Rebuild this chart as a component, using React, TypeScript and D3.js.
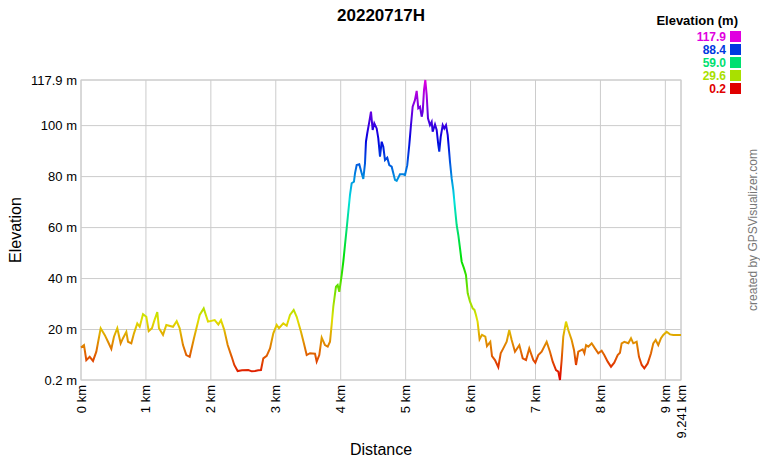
import React from "react";
import * as d3 from "d3";

const title = "20220717H";
const distKm: number[] = [
  0, 0.046, 0.082, 0.134, 0.185, 0.236, 0.303, 0.365, 0.416, 0.467, 0.508, 0.559, 0.611, 0.647, 0.698, 0.724,
  0.775, 0.816, 0.867, 0.904, 0.955, 1.006, 1.043, 1.093, 1.124, 1.175, 1.201, 1.263, 1.314, 1.417, 1.474, 1.52,
  1.571, 1.622, 1.674, 1.74, 1.828, 1.89, 1.956, 2.059, 2.115, 2.156, 2.207, 2.259, 2.321, 2.361, 2.413, 2.48,
  2.577, 2.63, 2.68, 2.73, 2.772, 2.808, 2.86, 2.911, 2.962, 3.014, 3.049, 3.116, 3.168, 3.219, 3.276, 3.322,
  3.388, 3.439, 3.476, 3.527, 3.604, 3.63, 3.67, 3.707, 3.758, 3.8, 3.835, 3.861, 3.886, 3.927, 3.953, 3.978,
  4.015, 4.04, 4.066, 4.092, 4.117, 4.143, 4.169, 4.204, 4.22, 4.246, 4.286, 4.323, 4.348, 4.374, 4.389, 4.409,
  4.44, 4.466, 4.492, 4.517, 4.554, 4.579, 4.605, 4.631, 4.656, 4.682, 4.717, 4.748, 4.785, 4.836, 4.862, 4.913,
  4.964, 4.99, 5.025, 5.056, 5.082, 5.108, 5.143, 5.17, 5.195, 5.221, 5.247, 5.263, 5.283, 5.303, 5.324, 5.344,
  5.375, 5.401, 5.416, 5.452, 5.478, 5.503, 5.518, 5.54, 5.571, 5.595, 5.622, 5.648, 5.668, 5.683, 5.709, 5.734,
  5.76, 5.786, 5.811, 5.837, 5.863, 5.899, 5.929, 5.956, 5.991, 6.033, 6.06, 6.083, 6.108, 6.139, 6.176, 6.227,
  6.253, 6.304, 6.33, 6.376, 6.427, 6.464, 6.504, 6.556, 6.596, 6.633, 6.684, 6.751, 6.803, 6.854, 6.904, 6.966,
  6.997, 7.043, 7.095, 7.172, 7.223, 7.265, 7.316, 7.351, 7.377, 7.403, 7.428, 7.47, 7.505, 7.557, 7.593, 7.624,
  7.659, 7.727, 7.753, 7.779, 7.814, 7.865, 7.916, 7.967, 8.019, 8.059, 8.112, 8.163, 8.213, 8.266, 8.301, 8.327,
  8.368, 8.43, 8.471, 8.506, 8.558, 8.594, 8.636, 8.676, 8.728, 8.779, 8.814, 8.851, 8.891, 8.933, 8.968, 9.02,
  9.071, 9.122, 9.174, 9.241,
];
const elevM: number[] = [
  12.9, 13.9, 8.0, 9.3, 7.7, 11.3, 20.5, 17.9, 15.2, 12.4, 17.2, 20.5, 14.6, 16.6, 19.1, 15.2,
  14.6, 18.5, 22.4, 21.1, 26.0, 25.0, 19.4, 20.5, 23.1, 26.8, 20.5, 17.9, 21.8, 21.1, 23.3, 20.5,
  13.9, 10.0, 9.3, 16.6, 25.7, 28.3, 23.1, 23.7, 22.0, 23.7, 19.8, 13.9, 9.3, 6.1, 3.7, 4.0,
  4.1, 3.6, 3.7, 4.0, 4.1, 8.7, 9.7, 12.6, 18.5, 21.8, 20.5, 22.4, 21.5, 25.7, 27.7, 25.0,
  19.1, 13.9, 10.0, 10.7, 10.5, 7.4, 10.0, 16.8, 13.9, 13.3, 15.2, 22.0, 29.0, 36.8, 37.5, 34.8,
  41.4, 46.6, 53.2, 59.7, 66.2, 72.8, 77.4, 78.0, 81.3, 84.5, 84.8, 81.3, 79.1, 85.2, 93.7, 97.0,
  101.5, 105.5, 98.3, 100.9, 98.9, 95.0, 87.8, 93.7, 91.7, 86.5, 87.4, 84.5, 83.9, 78.7, 78.3, 80.9,
  80.9, 80.6, 84.5, 92.4, 100.2, 107.4, 110.0, 113.6, 106.8, 107.4, 103.5, 105.5, 114.0, 117.9, 112.0, 102.9,
  100.2, 101.5, 97.6, 100.5, 98.3, 92.4, 89.8, 95.6, 100.2, 98.9, 100.2, 96.3, 90.4, 85.8, 79.3, 74.7,
  67.6, 61.0, 57.1, 51.9, 46.6, 44.0, 41.4, 34.2, 30.9, 28.3, 27.7, 25.7, 23.1, 16.2, 17.9, 17.2,
  13.5, 15.2, 9.6, 8.0, 5.2, 10.7, 12.6, 15.2, 19.8, 15.9, 11.3, 13.9, 8.7, 8.0, 12.6, 8.0,
  7.0, 10.0, 11.3, 15.2, 11.3, 7.4, 4.1, 3.5, 0.2, 8.0, 17.2, 23.1, 19.8, 15.9, 12.0, 6.1,
  11.3, 12.2, 10.7, 13.9, 13.3, 14.6, 12.6, 10.7, 11.7, 10.0, 7.4, 5.4, 7.0, 10.0, 10.9, 14.6,
  15.2, 14.6, 16.6, 14.6, 15.2, 9.3, 6.1, 4.8, 6.7, 10.7, 14.6, 15.9, 13.9, 16.6, 17.9, 19.1,
  18.1, 17.9, 17.9, 17.9,
];
const yTicks: number[] = [0.2, 20, 40, 60, 80, 100, 117.9];
const yTickLabels: string[] = ["0.2 m", "20 m", "40 m", "60 m", "80 m", "100 m", "117.9 m"];
const xTicks: number[] = [0, 1, 2, 3, 4, 5, 6, 7, 8, 9, 9.241];
const xTickLabels: string[] = ["0 km", "1 km", "2 km", "3 km", "4 km", "5 km", "6 km", "7 km", "8 km", "9 km", "9.241 km"];
const legendValues: number[] = [117.9, 88.4, 59.0, 29.6, 0.2];
const legendLabels: string[] = ["117.9", "88.4", "59.0", "29.6", "0.2"];

const minE = 0.2;
const maxE = 117.9;
const colorFor = (e: number) => d3.hsl((300 * (e - minE)) / (maxE - minE), 1, 0.44).toString();

export default function App() {
  const W = 760, H = 460;
  const left = 81, right = 681, top = 80, bottom = 380;
  const x = d3.scaleLinear().domain([0, 9.241]).range([left, right]);
  const y = d3.scaleLinear().domain([minE, maxE]).range([bottom, top]);
  const pts = distKm.map((d, i) => [d, elevM[i]] as [number, number]);
  const line = d3.line<[number, number]>().x((d) => x(d[0])).y((d) => y(d[1]));
  const stops = d3.range(0, 11).map((i) => i / 10);
  const font = "Arial, 'Liberation Sans', sans-serif";

  return (
    <svg width={W} height={H} style={{ position: "absolute", left: 0, top: 0, background: "#fff" }} fontFamily={font}>
      <defs>
        <linearGradient id="eg" gradientUnits="userSpaceOnUse" x1={0} x2={0} y1={y(minE)} y2={y(maxE)}>
          {stops.map((s) => (
            <stop key={s} offset={s} stopColor={colorFor(minE + s * (maxE - minE))} />
          ))}
        </linearGradient>
      </defs>
      <rect x={0} y={0} width={W} height={H} fill="#fff" />
      <text x={381} y={21} textAnchor="middle" fontSize={17} fontWeight="bold">{title}</text>
      {yTicks.map((t) => (
        <line key={"gy" + t} x1={left} x2={right} y1={y(t)} y2={y(t)} stroke="#cccccc" strokeWidth={1} />
      ))}
      {xTicks.map((t) => (
        <line key={"gx" + t} x1={x(t)} x2={x(t)} y1={top} y2={bottom} stroke="#cccccc" strokeWidth={1} />
      ))}
      <rect x={left} y={top} width={right - left} height={bottom - top} fill="none" stroke="#cccccc" strokeWidth={1} />
      {yTicks.map((t, i) => (
        <text key={"yl" + t} x={left - 4} y={y(t)} dy="0.35em" textAnchor="end" fontSize={13}>{yTickLabels[i]}</text>
      ))}
      {xTicks.map((t, i) => (
        <text key={"xl" + t} transform={`translate(${x(t)},${bottom + 5}) rotate(-90)`} dy="0.35em" textAnchor="end" fontSize={13}>
          {xTickLabels[i]}
        </text>
      ))}
      <text transform={`translate(21,230) rotate(-90)`} textAnchor="middle" fontSize={16}>Elevation</text>
      <text x={381} y={455} textAnchor="middle" fontSize={16}>Distance</text>
      <path d={line(pts) || ""} fill="none" stroke="url(#eg)" strokeWidth={2} strokeLinejoin="miter" />
      <text x={738} y={25} textAnchor="end" fontSize={13} fontWeight="bold">Elevation (m)</text>
      {legendValues.map((v, i) => (
        <g key={"lg" + v}>
          <text x={726} y={36.5 + i * 13} dy="0.35em" textAnchor="end" fontSize={12} fontWeight="bold" fill={colorFor(v)}>
            {legendLabels[i]}
          </text>
          <rect x={730} y={31 + i * 13} width={11} height={11} fill={colorFor(v)} />
        </g>
      ))}
      <text transform={`translate(757,230) rotate(-90)`} textAnchor="middle" fontSize={12} fill="#777">created by GPSVisualizer.com</text>
    </svg>
  );
}
